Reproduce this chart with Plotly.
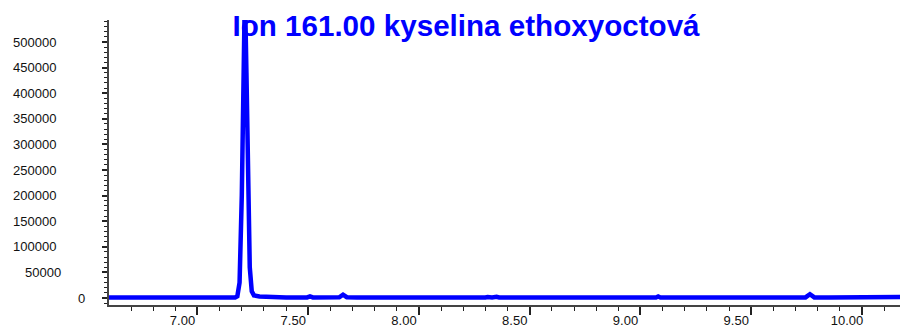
import plotly.graph_objects as go

# ---- data ----
times = [6.600, 6.650, 6.700, 6.750, 6.775, 6.786, 6.797, 6.820, 6.900, 7.000,
         7.100, 7.150, 7.170, 7.180, 7.190, 7.200, 7.207, 7.214, 7.221, 7.228,
         7.236, 7.245, 7.255, 7.280, 7.330, 7.400, 7.495, 7.508, 7.521, 7.600,
         7.640, 7.657, 7.674, 7.720, 7.760, 7.770, 7.780, 7.870, 7.880, 7.890,
         8.000, 8.100, 8.200, 8.300, 8.310, 8.330, 8.350, 8.362, 8.500, 8.600,
         8.700, 8.840, 8.850, 8.860, 8.950, 8.960, 8.970, 9.070, 9.080, 9.090,
         9.200, 9.300, 9.410, 9.420, 9.430, 9.470, 9.480, 9.490, 9.600, 9.700,
         9.745, 9.765, 9.785, 9.850, 9.950, 10.050, 10.150, 10.160, 10.172]
intensity = [800, 900, 800, 900, 1000, 2500, 1000, 900, 800, 900,
             800, 900, 1200, 3500, 30000, 200000, 430000, 600000, 440000, 220000,
             60000, 13000, 5000, 3000, 1800, 1100, 1000, 3000, 1100, 1000,
             1300, 6500, 1500, 1200, 1000, 2500, 1000, 1000, 2500, 1000,
             900, 900, 900, 1000, 2000, 1200, 2500, 1000, 900, 900,
             900, 1000, 2500, 1000, 1000, 2000, 1000, 1000, 3000, 1000,
             900, 900, 1000, 2000, 1000, 1000, 2000, 1000, 900, 900,
             1200, 7500, 1200, 900, 900, 900, 1000, 2500, 2000]

title_text = "Ion 161.00 kyselina ethoxyoctová"
y_tick_values = [0, 50000, 100000, 150000, 200000, 250000, 300000, 350000, 400000, 450000, 500000]
y_tick_labels = ["0", "50000", "100000", "150000", "200000", "250000", "300000", "350000", "400000", "450000", "500000"]
x_tick_values = [7.0, 7.5, 8.0, 8.5, 9.0, 9.5, 10.0]
x_tick_labels = ["7.00", "7.50", "8.00", "8.50", "9.00", "9.50", "10.00"]

# ---- style ----
BLUE = "#0000FF"
AXIS = "#444444"
FONT = "Liberation Sans, Arial, sans-serif"
# horizontal pixel shift of each y label (reference places them irregularly)
y_label_shift = [29, 5, 0, 0, 0, 0, 0, 0, 0, 0, 0]

fig = go.Figure()
fig.add_trace(go.Scatter(
    x=times, y=intensity, mode="lines",
    line=dict(color=BLUE, width=4.5, shape="linear"),
    hoverinfo="skip", showlegend=False,
))

for v, lab, sh in zip(y_tick_values, y_tick_labels, y_label_shift):
    fig.add_annotation(
        x=0, xref="paper", y=v, yref="y", text=lab, showarrow=False,
        xanchor="right", yanchor="middle", xshift=-51 + sh,
        font=dict(family=FONT, size=13, color="#111111"),
    )

fig.update_layout(
    width=900, height=327,
    margin=dict(l=109, r=0, t=20, b=22, pad=0, autoexpand=False),
    paper_bgcolor="white", plot_bgcolor="white",
    title=dict(
        text="<b>" + title_text + "</b>",
        x=466 / 900, xref="container", xanchor="center",
        y=1 - 15 / 327, yref="container", yanchor="top",
        font=dict(family=FONT, size=29.6, color=BLUE),
        automargin=False,
    ),
    xaxis=dict(
        range=[6.6005, 10.1716], showgrid=False, zeroline=False, automargin=False,
        showline=True, linecolor=AXIS, linewidth=1.5,
        tickmode="array", tickvals=x_tick_values, ticktext=x_tick_labels,
        ticks="outside", ticklen=8, tickwidth=1.5, tickcolor="#222222",
        minor=dict(dtick=0.1, tick0=7.0, ticks="outside", ticklen=4,
                   tickwidth=1, tickcolor="#222222", showgrid=False),
        tickfont=dict(family=FONT, size=13, color="#111111"),
        ticklabelshift=-15, ticklabelstandoff=-5,
    ),
    yaxis=dict(
        range=[-13672, 542969], showgrid=False, zeroline=False, automargin=False,
        showline=True, linecolor=AXIS, linewidth=1.5,
        tickmode="array", tickvals=y_tick_values, showticklabels=False,
        ticks="outside", ticklen=5, tickwidth=1.5, tickcolor="#222222",
        minor=dict(dtick=10000, tick0=0, ticks="outside", ticklen=3,
                   tickwidth=1, tickcolor="#222222", showgrid=False),
    ),
)

fig.write_html("out.html")
